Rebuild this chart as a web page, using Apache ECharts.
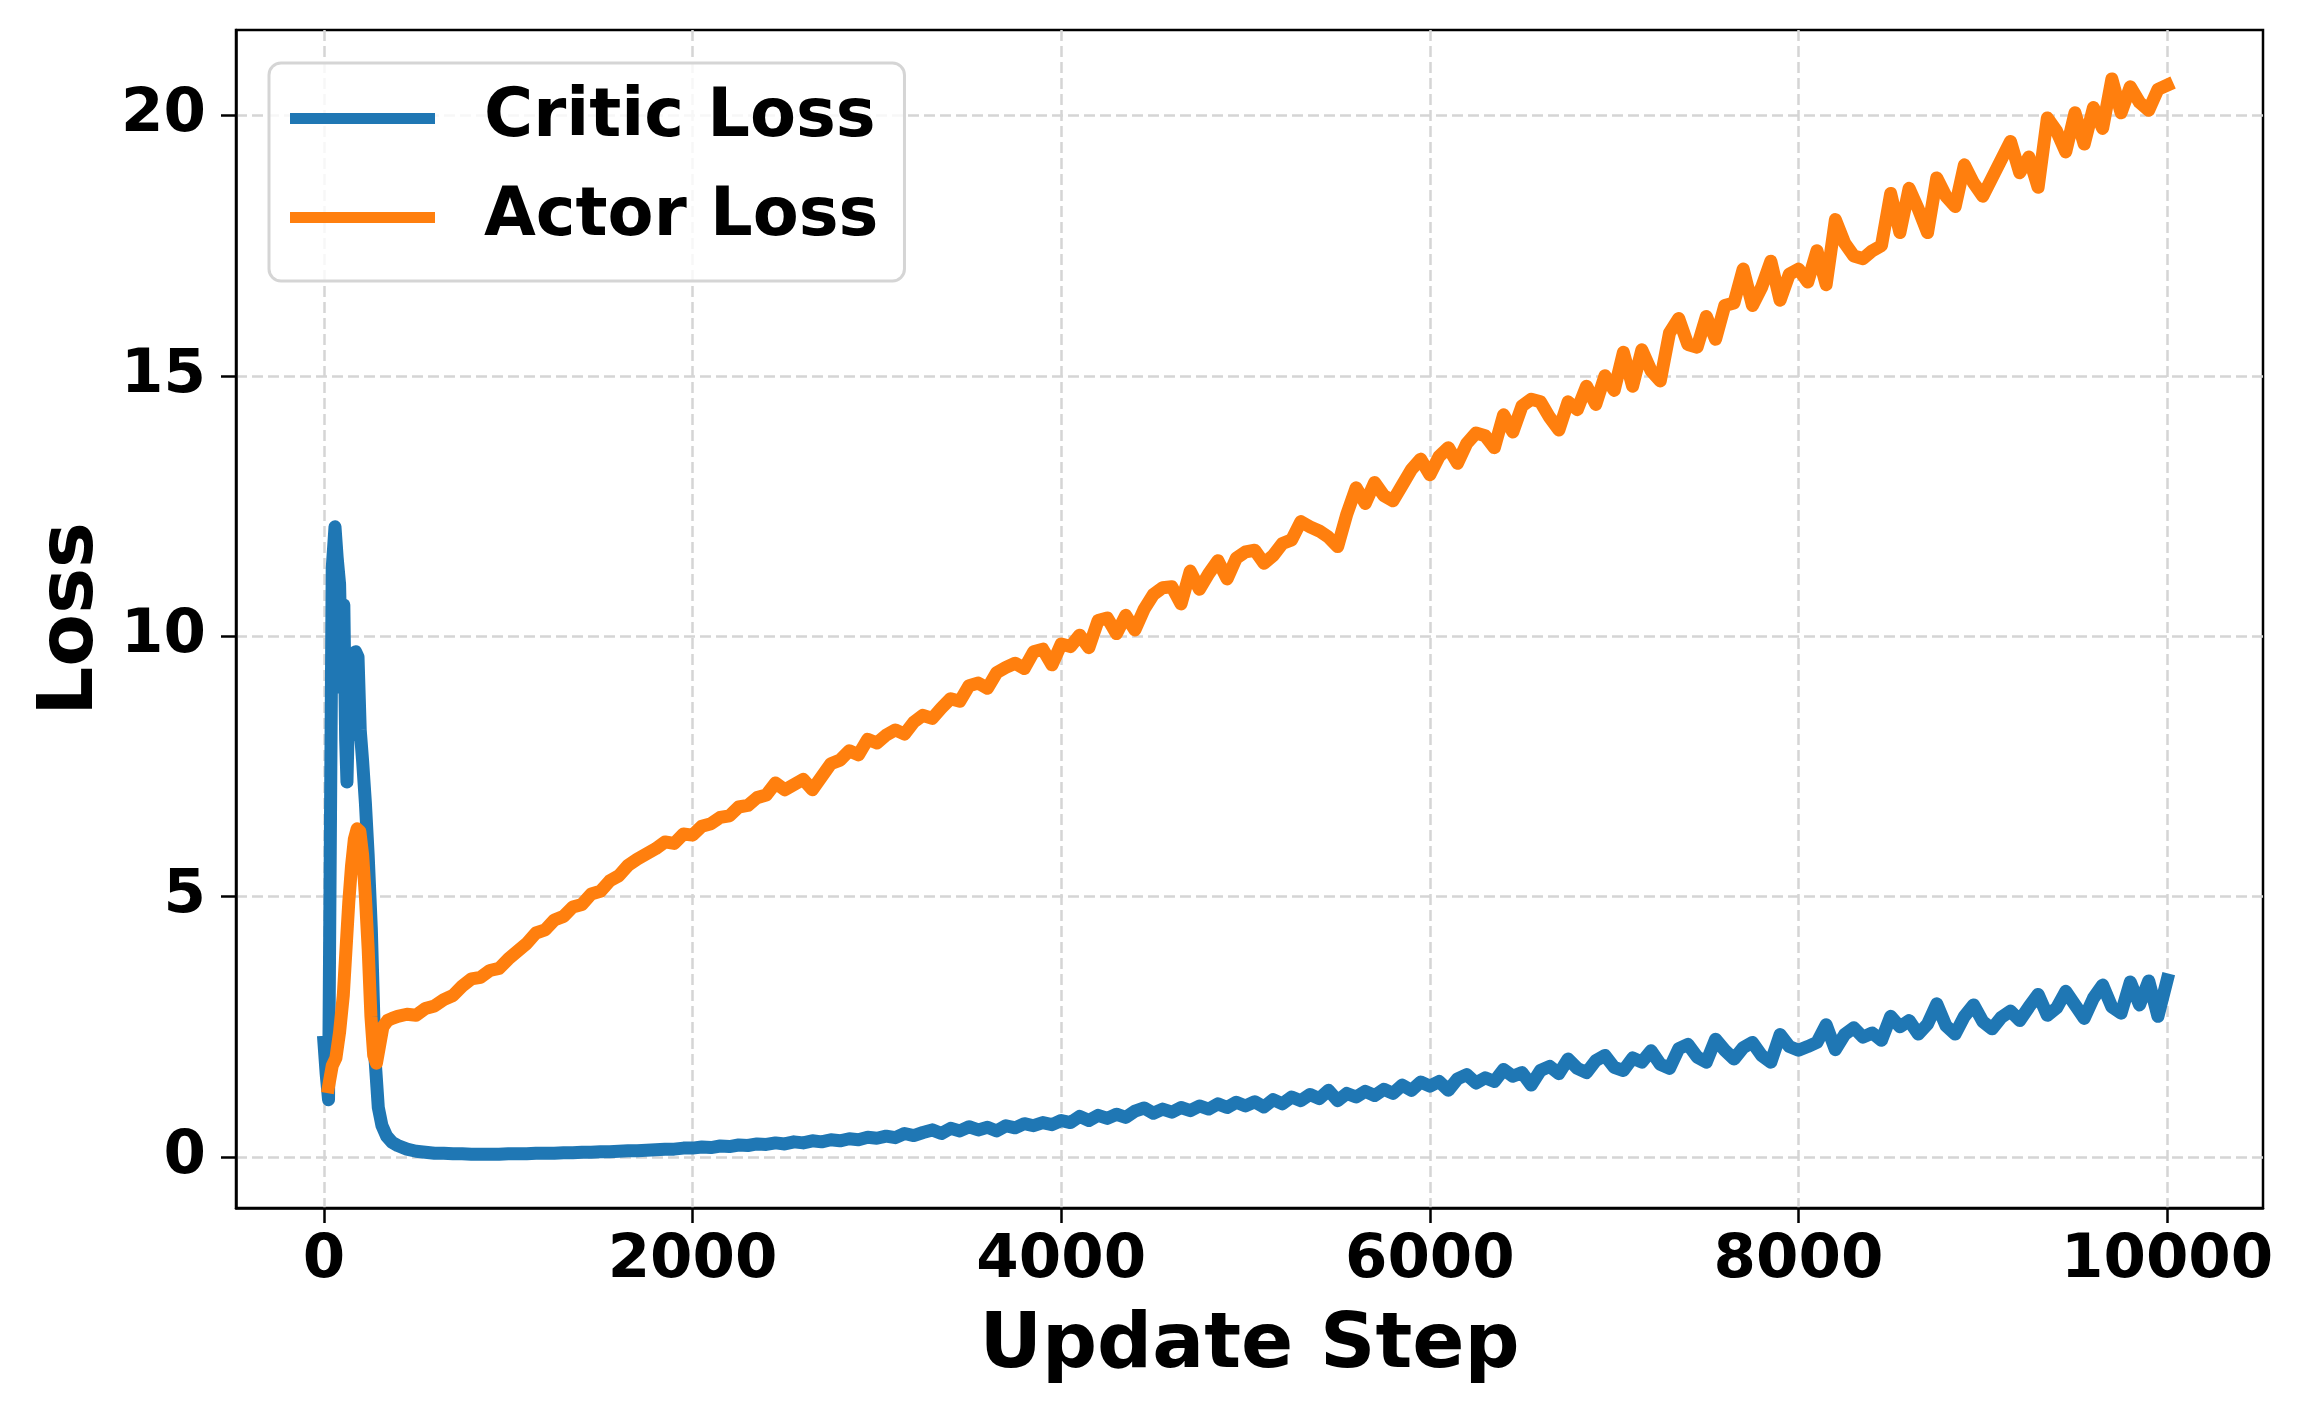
<!DOCTYPE html>
<html>
<head>
<meta charset="utf-8">
<script src="https://cdn.jsdelivr.net/npm/echarts@6/dist/echarts.min.js"></script>
<style>
  html, body { margin: 0; padding: 0; background: #fff; }
  #chart { width: 2308px; height: 1417px; }
</style>
</head>
<body>
<div id="chart"></div>
<script>
// ---- data ----
const seriesNames = ['Critic Loss', 'Actor Loss'];
const xTicks = [0, 2000, 4000, 6000, 8000, 10000];
const yTicks = [0, 5, 10, 15, 20];

// early (fine-grained) part of each curve
const criticEarlySteps = [0, 12, 25, 45, 60, 72, 85, 97, 108, 118, 125, 135, 148, 160, 172, 185, 197, 210, 225, 240, 257, 277, 295, 315, 340, 370];
const criticEarly = [2.2, 1.6, 1.1, 11.3, 12.1, 11.5, 11.0, 9.0, 10.6, 8.0, 7.2, 8.8, 8.1, 9.2, 9.7, 9.6, 8.2, 7.6, 6.8, 5.8, 4.4, 1.9, 0.95, 0.6, 0.4, 0.28];

const actorEarlySteps = [25, 45, 65, 85, 105, 120, 135, 150, 165, 180, 195, 210, 225, 240, 255, 270, 285, 300, 320, 345, 370];
const actorEarly = [1.35, 1.75, 1.9, 2.4, 3.1, 4.0, 4.9, 5.6, 6.1, 6.3, 6.25, 5.8, 5.0, 4.0, 2.7, 1.95, 1.8, 2.1, 2.5, 2.62, 2.66];

// main part, shared update steps
const steps = [
  400, 450, 500, 550, 600, 650, 700, 750, 800, 850,
  900, 950, 1000, 1050, 1100, 1150, 1200, 1250, 1300, 1350,
  1400, 1450, 1500, 1550, 1600, 1650, 1700, 1750, 1800, 1850,
  1900, 1950, 2000, 2050, 2100, 2150, 2200, 2250, 2300, 2350,
  2400, 2450, 2500, 2550, 2600, 2650, 2700, 2750, 2800, 2850,
  2900, 2950, 3000, 3050, 3100, 3150, 3200, 3250, 3300, 3350,
  3400, 3450, 3500, 3550, 3600, 3650, 3700, 3750, 3800, 3850,
  3900, 3950, 4000, 4050, 4100, 4150, 4200, 4250, 4300, 4350,
  4400, 4450, 4500, 4550, 4600, 4650, 4700, 4750, 4800, 4850,
  4900, 4950, 5000, 5050, 5100, 5150, 5200, 5250, 5300, 5350,
  5400, 5450, 5500, 5550, 5600, 5650, 5700, 5750, 5800, 5850,
  5900, 5950, 6000, 6050, 6100, 6150, 6200, 6250, 6300, 6350,
  6400, 6450, 6500, 6550, 6600, 6650, 6700, 6750, 6800, 6850,
  6900, 6950, 7000, 7050, 7100, 7150, 7200, 7250, 7300, 7350,
  7400, 7450, 7500, 7550, 7600, 7650, 7700, 7750, 7800, 7850,
  7900, 7950, 8000, 8050, 8100, 8150, 8200, 8250, 8300, 8350,
  8400, 8450, 8500, 8550, 8600, 8650, 8700, 8750, 8800, 8850,
  8900, 8950, 9000, 9050, 9100, 9150, 9200, 9250, 9300, 9350,
  9400, 9450, 9500, 9550, 9600, 9650, 9700, 9750, 9800, 9850,
  9900, 9950, 10000
];

const criticLoss = [
  0.22, 0.15, 0.11, 0.09, 0.07, 0.07, 0.06, 0.06, 0.05, 0.05,
  0.05, 0.05, 0.06, 0.06, 0.06, 0.07, 0.07, 0.07, 0.08, 0.08,
  0.09, 0.09, 0.10, 0.10, 0.11, 0.12, 0.12, 0.13, 0.14, 0.15,
  0.15, 0.17, 0.17, 0.19, 0.18, 0.21, 0.20, 0.23, 0.22, 0.25,
  0.24, 0.27, 0.25, 0.29, 0.27, 0.31, 0.29, 0.33, 0.31, 0.35,
  0.33, 0.38, 0.36, 0.40, 0.37, 0.45, 0.41, 0.47, 0.52, 0.45,
  0.55, 0.50, 0.58, 0.52, 0.57, 0.50, 0.60, 0.56, 0.64, 0.60,
  0.66, 0.62, 0.70, 0.66, 0.78, 0.70, 0.80, 0.74, 0.82, 0.76,
  0.88, 0.94, 0.84, 0.92, 0.86, 0.95, 0.89, 0.98, 0.92, 1.02,
  0.95, 1.05, 0.98, 1.06, 0.96, 1.10, 1.02, 1.15, 1.08, 1.20,
  1.12, 1.28, 1.08, 1.22, 1.15, 1.26, 1.18, 1.30, 1.22, 1.38,
  1.28, 1.44, 1.36, 1.45, 1.28, 1.50, 1.58, 1.42, 1.52, 1.45,
  1.68, 1.55, 1.62, 1.38, 1.66, 1.74, 1.60, 1.88, 1.70, 1.62,
  1.85, 1.95, 1.72, 1.66, 1.90, 1.82, 2.04, 1.78, 1.70, 2.08,
  2.16, 1.92, 1.82, 2.26, 2.05, 1.88, 2.10, 2.20, 1.95, 1.82,
  2.35, 2.12, 2.05, 2.12, 2.20, 2.54, 2.06, 2.35, 2.48, 2.30,
  2.38, 2.24, 2.70, 2.50, 2.62, 2.36, 2.55, 2.94, 2.52, 2.36,
  2.70, 2.92, 2.60, 2.46, 2.68, 2.80, 2.62, 2.88, 3.12, 2.72,
  2.86, 3.18, 2.92, 2.66, 3.05, 3.30, 2.88, 2.76, 3.36, 2.92,
  3.38, 2.70, 3.40
];

const actorLoss = [
  2.70, 2.74, 2.72, 2.85, 2.90, 3.02, 3.10, 3.28, 3.42, 3.45,
  3.58, 3.62, 3.80, 3.95, 4.10, 4.30, 4.36, 4.55, 4.62, 4.80,
  4.85, 5.05, 5.10, 5.30, 5.40, 5.60, 5.72, 5.82, 5.92, 6.05,
  6.02, 6.20, 6.18, 6.35, 6.40, 6.52, 6.55, 6.72, 6.75, 6.90,
  6.95, 7.18, 7.05, 7.15, 7.25, 7.05, 7.30, 7.55, 7.62, 7.80,
  7.72, 8.02, 7.95, 8.10, 8.20, 8.12, 8.35, 8.48, 8.42, 8.62,
  8.80, 8.75, 9.05, 9.10, 9.00, 9.30, 9.40, 9.48, 9.38, 9.70,
  9.75, 9.45, 9.85, 9.80, 10.02, 9.78, 10.30, 10.35, 10.05, 10.40,
  10.12, 10.52, 10.80, 10.93, 10.95, 10.62, 11.25, 10.90, 11.20, 11.45,
  11.10, 11.50, 11.62, 11.65, 11.40, 11.55, 11.78, 11.85, 12.20, 12.10,
  12.02, 11.90, 11.72, 12.35, 12.85, 12.55, 12.95, 12.70, 12.60, 12.90,
  13.20, 13.40, 13.10, 13.45, 13.62, 13.32, 13.70, 13.90, 13.85, 13.62,
  14.25, 13.92, 14.42, 14.55, 14.50, 14.20, 13.96, 14.50, 14.35, 14.80,
  14.45, 15.00, 14.72, 15.45, 14.80, 15.50, 15.10, 14.90, 15.82, 16.10,
  15.60, 15.55, 16.14, 15.70, 16.35, 16.40, 17.05, 16.35, 16.70, 17.20,
  16.45, 16.95, 17.05, 16.80, 17.40, 16.75, 18.00, 17.55, 17.30, 17.25,
  17.40, 17.50, 18.50, 17.75, 18.60, 18.20, 17.75, 18.80, 18.45, 18.25,
  19.05, 18.70, 18.45, 18.80, 19.15, 19.50, 18.90, 19.20, 18.62, 19.95,
  19.70, 19.30, 20.05, 19.45, 20.15, 19.75, 20.70, 20.05, 20.55, 20.25,
  20.10, 20.50, 20.58
];

// ---- build series data ----
function pairs(xs, ys) { return xs.map((x, i) => [x, ys[i]]); }
const criticData = pairs(criticEarlySteps, criticEarly).concat(pairs(steps, criticLoss));
const actorData = pairs(actorEarlySteps, actorEarly).concat(pairs(steps, actorLoss));

const FONT = 'DejaVu Sans';
const plain = v => String(v);
const chart = echarts.init(document.getElementById('chart'), null, { renderer: 'canvas' });

chart.setOption({
  animation: false,
  backgroundColor: '#ffffff',
  grid: {
    left: 236, right: 45, top: 30, bottom: 209,
    show: true, borderColor: '#000000', borderWidth: 2.5, backgroundColor: 'transparent',
    outerBoundsMode: 'none'
  },
  legend: {
    orient: 'vertical', left: 269, top: 63,
    data: seriesNames,
    icon: 'rect', itemWidth: 145, itemHeight: 11, itemGap: 32,
    padding: [22, 26, 30, 21],
    backgroundColor: 'rgba(255,255,255,0.8)',
    borderColor: '#d5d5d5', borderWidth: 3, borderRadius: 12,
    selectedMode: false,
    textStyle: { fontFamily: FONT, fontWeight: 'bold', fontSize: 67, color: '#000', lineHeight: 67, padding: [0, 0, 0, 44] }
  },
  xAxis: {
    type: 'value', min: -477, max: 10520,
    name: 'Update Step', nameLocation: 'middle', nameGap: 100,
    nameTextStyle: { fontFamily: FONT, fontWeight: 'bold', fontSize: 77, color: '#000' },
    axisLine: { show: true, onZero: false, lineStyle: { color: '#000', width: 2.5 } },
    axisTick: { show: true, length: 15, customValues: xTicks, lineStyle: { color: '#000', width: 2.5 } },
    axisLabel: { customValues: xTicks, formatter: plain, margin: 23,
      fontFamily: FONT, fontWeight: 'bold', fontSize: 61, color: '#000' },
    splitLine: { show: true,
      lineStyle: { color: '#d5d5d5', width: 2.5, type: [11, 5] } }
  },
  yAxis: {
    type: 'value', min: -0.98, max: 21.64,
    name: 'Loss', nameLocation: 'middle', nameGap: 116, nameRotate: 90,
    nameTextStyle: { fontFamily: FONT, fontWeight: 'bold', fontSize: 77, color: '#000' },
    axisLine: { show: true, onZero: false, lineStyle: { color: '#000', width: 2.5 } },
    axisTick: { show: true, length: 15, customValues: yTicks, lineStyle: { color: '#000', width: 2.5 } },
    axisLabel: { customValues: yTicks, formatter: plain, margin: 30,
      fontFamily: FONT, fontWeight: 'bold', fontSize: 61, color: '#000' },
    splitLine: { show: true,
      lineStyle: { color: '#d5d5d5', width: 2.5, type: [11, 5] } }
  },
  series: [
    {
      name: seriesNames[0], type: 'line', data: criticData,
      showSymbol: false, symbol: 'none', color: '#1f77b4',
      lineStyle: { width: 13, color: '#1f77b4', join: 'round', cap: 'square' }
    },
    {
      name: seriesNames[1], type: 'line', data: actorData,
      showSymbol: false, symbol: 'none', color: '#ff7f0e',
      lineStyle: { width: 13, color: '#ff7f0e', join: 'round', cap: 'square' }
    }
  ]
});
</script>
</body>
</html>
